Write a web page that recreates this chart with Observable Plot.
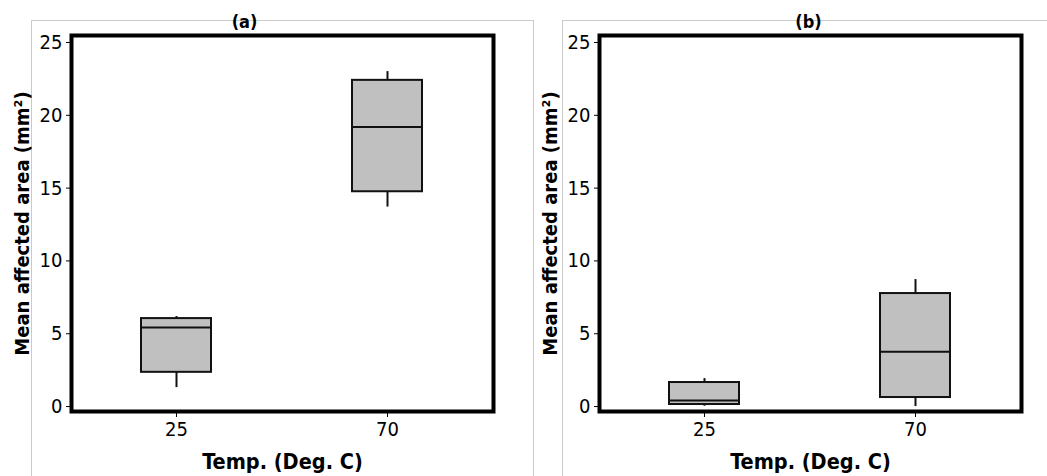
<!DOCTYPE html>
<html>
<head>
<meta charset="utf-8">
<script src="https://cdn.jsdelivr.net/npm/d3@7"></script>
<script src="https://cdn.jsdelivr.net/npm/@observablehq/plot@0.6"></script>
<style>
  html, body { margin: 0; padding: 0; background: #fff; }
  #wrap { position: relative; width: 1047px; height: 476px; overflow: hidden; background: #fff; }
  .border { position: absolute; top: 20px; height: 470px; box-sizing: border-box; border-top: 1px solid #cacaca; border-left: 1px solid #cacaca; }
  #borderA { left: 31px; width: 503px; border-right: 1px solid #cacaca; }
  #borderB { left: 562px; width: 500px; }
  .panel { position: absolute; top: 0; }
  #panelA { left: 0; }
  #panelB { left: 528px; }
</style>
</head>
<body>
<div id="wrap">
  <div class="border" id="borderA"></div>
  <div class="border" id="borderB"></div>
  <div class="panel" id="panelA"></div>
  <div class="panel" id="panelB"></div>
</div>
<script>
// Categories and tick labels
const temps = ["25", "70"];
const yTicks = [0, 5, 10, 15, 20, 25];
const yLabel = "Mean affected area (mm²)";
const xLabel = "Temp. (Deg. C)";

// Panel (a) box-plot statistics
const aMin = [1.3, 13.7];
const aQ1 = [2.35, 14.75];
const aMed = [5.43, 19.2];
const aQ3 = [6.04, 22.4];
const aMax = [6.18, 23.0];

// Panel (b) box-plot statistics
const bMin = [0.02, 0.0];
const bQ1 = [0.14, 0.62];
const bMed = [0.41, 3.77];
const bQ3 = [1.65, 7.76];
const bMax = [1.92, 8.72];

const FONT = "'DejaVu Sans Condensed', 'DejaVu Sans', sans-serif";

function panel(title, titleDx, mins, q1, med, q3, max) {
  const rows = temps.map((t, i) => ({t, min: mins[i], q1: q1[i], med: med[i], q3: q3[i], max: max[i]}));
  return Plot.plot({
    width: 519,
    height: 476,
    marginLeft: 71,
    marginRight: 26,
    marginTop: 35,
    marginBottom: 65,
    style: {fontFamily: FONT, fontSize: "20px", color: "#000", background: "transparent", overflow: "visible"},
    x: {type: "band", domain: temps, paddingInner: 0.668, paddingOuter: 0.334, label: null},
    y: {domain: [-0.34, 25.48], label: null},
    marks: [
      Plot.ruleX(rows, {x: "t", y1: "q3", y2: "max", stroke: "#111", strokeWidth: 2}),
      Plot.ruleX(rows, {x: "t", y1: "min", y2: "q1", stroke: "#111", strokeWidth: 2}),
      Plot.barY(rows, {x: "t", y1: "q1", y2: "q3", fill: "#c0c0c0", stroke: "#111", strokeWidth: 2}),
      Plot.tickY(rows, {x: "t", y: "med", stroke: "#111", strokeWidth: 2}),
      Plot.axisY(yTicks, {tickSize: 5, tickPadding: 4, fontSize: 20, stroke: "#000"}),
      Plot.axisX({tickSize: 6, tickPadding: 4, fontSize: 20, stroke: "#000"}),
      Plot.text([yLabel], {text: d => d, frameAnchor: "left", dx: -49, rotate: -90, textAnchor: "middle", lineAnchor: "middle", fontWeight: "bold", fontSize: 20, fill: "#000"}),
      Plot.text([xLabel], {text: d => d, frameAnchor: "bottom", dy: 51, textAnchor: "middle", lineAnchor: "middle", fontWeight: "bold", fontSize: 21.5, fill: "#000"}),
      Plot.text([title], {text: d => d, frameAnchor: "top-left", dx: titleDx, dy: -13, textAnchor: "middle", lineAnchor: "middle", fontWeight: "bold", fontSize: 18, fill: "#000"}),
      Plot.frame({stroke: "#000", strokeWidth: 4})
    ]
  });
}

document.getElementById("panelA").append(panel("(a)", 173, aMin, aQ1, aMed, aQ3, aMax));
document.getElementById("panelB").append(panel("(b)", 209, bMin, bQ1, bMed, bQ3, bMax));
</script>
</body>
</html>
